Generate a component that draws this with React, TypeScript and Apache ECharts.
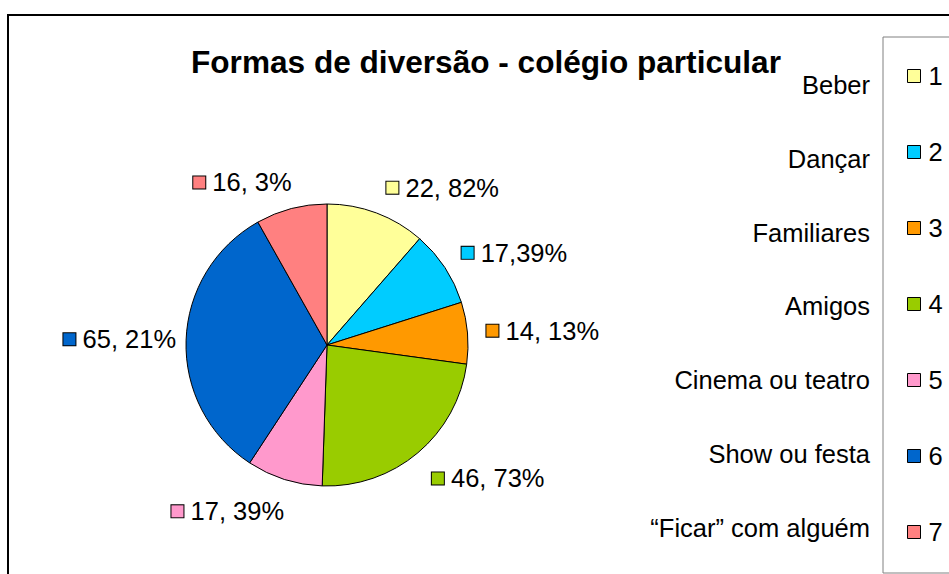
import React, { useEffect, useRef } from "react";
import * as echarts from "echarts";

const categories = [
  "Beber",
  "Dançar",
  "Familiares",
  "Amigos",
  "Cinema ou teatro",
  "Show ou festa",
  "\u201CFicar\u201D com alguém",
];
const legendKeys = ["1", "2", "3", "4", "5", "6", "7"];
const values = [22.82, 17.39, 14.13, 46.73, 17.39, 65.21, 16.3];
const valueLabels = ["22, 82%", "17,39%", "14, 13%", "46, 73%", "17, 39%", "65, 21%", "16, 3%"];
const colors = ["#FFFF99", "#00CCFF", "#FF9900", "#99CC00", "#FF99CC", "#0066CC", "#FF8080"];
const titleText = "Formas de diversão - colégio particular";

const FONT = "'Liberation Sans', Arial, sans-serif";

export default function App() {
  const ref = useRef<HTMLDivElement>(null);
  useEffect(() => {
    if (!ref.current) return;
    const chart = echarts.init(ref.current, null, { renderer: "svg" });
    const total = values.reduce((a, b) => a + b, 0);
    const cum: number[] = [];
    values.reduce((acc, v) => {
      cum.push(acc + v / 2);
      return acc + v;
    }, 0);

    const data = values.map((v, i) => ({
      value: v,
      name: legendKeys[i],
      itemStyle: { color: colors[i] },
      label: {
        formatter: "{m|} " + valueLabels[i],
        rich: {
          m: {
            width: 12,
            height: 12,
            backgroundColor: colors[i],
            borderColor: "#000",
            borderWidth: 1,
          },
        },
      },
    }));

    chart.setOption({
      animation: false,
      backgroundColor: "#fff",
      title: {
        text: titleText,
        left: 186,
        top: 41,
        textStyle: { fontFamily: FONT, fontWeight: "bold", fontSize: 31.6, color: "#000" },
      },
      legend: {
        orient: "vertical",
        left: 883,
        top: 37,
        padding: [26, 60, 28, 24],
        borderColor: "#808080",
        borderWidth: 1,
        itemWidth: 13,
        itemHeight: 13,
        itemGap: 50,
        icon: "rect",
        data: legendKeys,
        itemStyle: { borderColor: "#000", borderWidth: 1 },
        textStyle: { fontFamily: FONT, fontSize: 25.5, color: "#000", lineHeight: 26, padding: [0, 0, 0, 3] },
      },
      graphic: [
        {
          type: "rect",
          shape: { x: 8, y: 15, width: 1000, height: 620 },
          style: { fill: "none", stroke: "#000", lineWidth: 2 },
          silent: true,
        },
        ...categories.map((c, i) => ({
          type: "text",
          x: 870,
          y: 85 + i * 73.8,
          style: {
            text: c,
            fontFamily: FONT,
            fontSize: 25.5,
            fill: "#000",
            textAlign: "right",
            textVerticalAlign: "middle",
          },
        })),
      ],
      series: [
        {
          type: "pie",
          center: [327, 345],
          radius: 141,
          startAngle: 90,
          clockwise: true,
          avoidLabelOverlap: false,
          itemStyle: { borderColor: "#000", borderWidth: 1 },
          label: {
            show: true,
            position: "outside",
            fontFamily: FONT,
            fontSize: 25.5,
            color: "#000",
            distanceToLabelLine: 5,
          },
          labelLine: { show: false, length: 14, length2: 0 },
          labelLayout: (params: any) => {
            const i = params.dataIndex;
            const ang = (cum[i] / total) * Math.PI * 2;
            const h = params.labelRect.height;
            const c = Math.cos(ang);
            return {
              dy: c > 0 ? (-c * h) / 2 : (-c * h) / 2 * 1.5,
              dx: Math.sin(ang) < 0 ? 9 : 0,
            };
          },
          emphasis: { disabled: true },
          data,
        },
      ],
    });
    return () => chart.dispose();
  }, []);
  return (
    <div
      ref={ref}
      style={{ position: "absolute", left: 0, top: 0, width: 949, height: 574, background: "#fff" }}
    />
  );
}
